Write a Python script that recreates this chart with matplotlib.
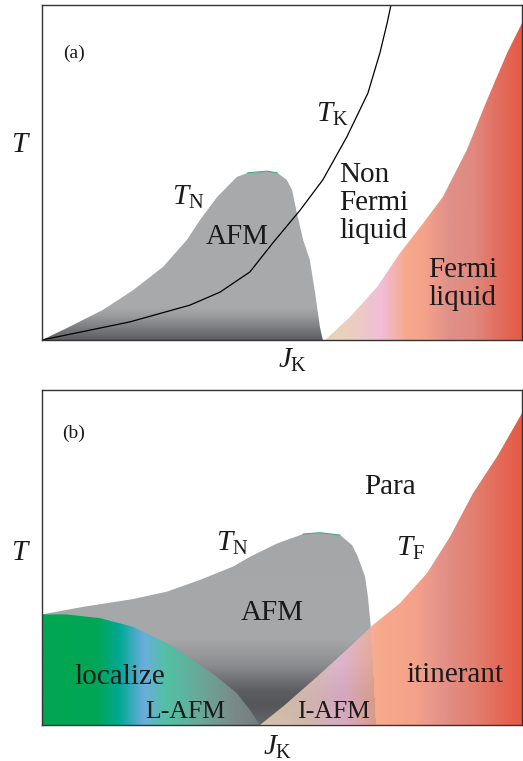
import numpy as np
import matplotlib
matplotlib.use('Agg')
import matplotlib.pyplot as plt
from matplotlib.patches import Polygon
from matplotlib.path import Path
from matplotlib.colors import LinearSegmentedColormap

plt.rcParams['font.family'] = ['Liberation Serif', 'DejaVu Serif']
plt.rcParams['mathtext.fontset'] = 'custom'
plt.rcParams['mathtext.rm'] = 'Liberation Serif'
plt.rcParams['mathtext.it'] = 'Liberation Serif:italic'

# ---------------- data (normalised J_K, T) ----------------
# panel (a)
afm_a_x = [0.0, 0.051, 0.127, 0.190, 0.252, 0.302, 0.329, 0.365, 0.406, 0.429, 0.469, 0.490,
           0.510, 0.521, 0.531, 0.544, 0.558, 0.569, 0.579, 0.585]
afm_a_y = [0.0, 0.035, 0.090, 0.149, 0.218, 0.299, 0.358, 0.427, 0.487, 0.499, 0.504, 0.499,
           0.478, 0.448, 0.379, 0.299, 0.239, 0.140, 0.039, 0.0]
tk_x = [0.0, 0.183, 0.308, 0.371, 0.433, 0.481, 0.538, 0.585, 0.635, 0.679, 0.704, 0.719, 0.727]
tk_y = [0.0, 0.054, 0.104, 0.143, 0.203, 0.290, 0.388, 0.478, 0.606, 0.737, 0.857, 0.946, 1.0]
fl_a_x = [0.590, 0.642, 0.698, 0.746, 0.788, 0.835, 0.885, 0.927, 0.969, 1.0]
fl_a_y = [0.0, 0.069, 0.158, 0.260, 0.337, 0.427, 0.567, 0.716, 0.857, 0.946]

# panel (b)
afm_b_x = [0.0, 0.087, 0.190, 0.260, 0.329, 0.398, 0.433, 0.490, 0.544, 0.579, 0.621, 0.646,
           0.658, 0.673, 0.679, 0.685, 0.690, 0.696]
afm_b_y = [0.330, 0.353, 0.376, 0.398, 0.433, 0.473, 0.502, 0.542, 0.570, 0.574, 0.567, 0.537,
           0.502, 0.443, 0.383, 0.293, 0.185, 0.0]
loc_x = [0.0, 0.051, 0.121, 0.190, 0.260, 0.315, 0.364, 0.406, 0.433, 0.454]
loc_y = [0.330, 0.330, 0.319, 0.293, 0.244, 0.194, 0.144, 0.095, 0.045, 0.0]
itin_x = [0.454, 0.502, 0.573, 0.642, 0.690, 0.746, 0.802, 0.850, 0.898, 0.948, 1.0]
itin_y = [0.0, 0.055, 0.144, 0.234, 0.299, 0.364, 0.453, 0.562, 0.692, 0.801, 0.931]

# colour stops
gray_a_stops = [(0.0, '#5e5f63'), (0.03, '#77797c'), (0.07, '#9a9c9e'), (0.10, '#a8aaac'),
                (1.0, '#a6a8aa')]
gray_b_stops = [(0.0, '#646569'), (0.06, '#55565a'), (0.10, '#5d5e62'), (0.18, '#8c8e90'),
                (0.26, '#a6a8aa'), (1.0, '#a2a4a6')]
fermi_a_stops = [(0.0, '#e8d5b6'), (0.59, '#e8d5b6'), (0.66, '#eccbc4'), (0.71, '#f2bdd8'),
                 (0.76, '#f6a98c'), (0.80, '#f4a28a'), (0.85, '#e09088'), (0.90, '#e08a80'),
                 (0.95, '#e27060'), (1.0, '#e55a46')]
itin_stops = [(0.0, '#ecd9b8'), (0.454, '#ecd9b8'), (0.55, '#eecdc0'), (0.63, '#f2bcd8'),
              (0.70, '#f8aa8c'), (0.78, '#f4a28a'), (0.84, '#e29088'), (0.90, '#e28070'),
              (1.0, '#e55a46')]
loc_stops = [(0.0, '#00a651'), (0.11, '#00a655'), (0.16, '#00a894'), (0.21, '#6aaedc'),
             (0.26, '#52c0a4'), (0.33, '#6aa898'), (0.40, '#7a8a88'), (0.46, '#76797c'),
             (1.0, '#76797c')]

N = 500
g = np.linspace(0, 1, N)
GX, GY = np.meshgrid(g, g)


def cmap(stops):
    return LinearSegmentedColormap.from_list('c', stops)


def hgrad(stops):
    return cmap(stops)(GX)[..., :3]


def vgrad(stops):
    return cmap(stops)(GY)[..., :3]


def grad_fill(ax, xs, ys, img, z):
    poly = Polygon(np.column_stack([xs, ys]), closed=True, facecolor='none',
                   edgecolor='none', transform=ax.transData)
    ax.add_patch(poly)
    im = ax.imshow(img, extent=(0, 1, 0, 1), origin='lower', aspect='auto',
                   zorder=z, interpolation='bilinear')
    im.set_clip_path(poly)
    return im


fig = plt.figure(figsize=(5.23, 7.61), dpi=100)
axa = fig.add_axes([42 / 523, 1 - 340 / 761, 480 / 523, 335 / 761])
axb = fig.add_axes([42 / 523, 1 - 725 / 761, 480 / 523, 335 / 761])

for ax in (axa, axb):
    ax.set_xticks([])
    ax.set_yticks([])
    for s in ax.spines.values():
        s.set_color('#333333')
        s.set_linewidth(1.0)
        s.set_zorder(10)

fs = 21
tc = '#1a1a1a'

# ---- panel (a) ----
grad_fill(axa, list(afm_a_x), list(afm_a_y), vgrad(gray_a_stops), 1)
grad_fill(axa, list(fl_a_x) + [1.0], list(fl_a_y) + [0.0], hgrad(fermi_a_stops), 1)
axa.plot(afm_a_x[9:12], afm_a_y[9:12], color='#45a98e', lw=0.8, zorder=2)
axa.plot(tk_x, tk_y, color='black', lw=0.9, zorder=3)
axa.set_xlim(0, 1)
axa.set_ylim(0, 1)

axa.text(0.067, 0.857, '(a)', fontsize=14, ha='center', va='center', color=tc)
axa.text(0.604, 0.672, r'$T_{\rm K}$', fontsize=fs, ha='center', va='center', color=tc)
axa.text(0.304, 0.427, r'$T_{\rm N}$', fontsize=fs, ha='center', va='center', color=tc)
axa.text(0.406, 0.308, 'AFM', fontsize=fs, ha='center', va='center', color=tc, zorder=5)
axa.text(0.619, 0.409, 'Non\nFermi\nliquid', fontsize=fs, ha='left', va='center',
         linespacing=1.1, color=tc)
axa.text(0.804, 0.167, 'Fermi\nliquid', fontsize=fs, ha='left', va='center',
         linespacing=1.1, color=tc, zorder=5)

# ---- panel (b) ----
afm_bx = list(afm_b_x) + [0.0]
afm_by = list(afm_b_y) + [0.0]
grad_fill(axb, afm_bx, afm_by, vgrad(gray_b_stops), 1)

itin_img = hgrad(itin_stops)
gray_b_img = vgrad(gray_b_stops)
inside = Path(np.column_stack([afm_bx, afm_by])).contains_points(
    np.column_stack([GX.ravel(), GY.ravel()])).reshape(GX.shape)
itin_img[inside] = 0.8 * itin_img[inside] + 0.2 * gray_b_img[inside]
grad_fill(axb, list(itin_x) + [1.0], list(itin_y) + [0.0], itin_img, 2)
grad_fill(axb, [0.0] + list(loc_x), [0.0] + list(loc_y), hgrad(loc_stops), 2)
axb.plot(afm_b_x[8:11], afm_b_y[8:11], color='#45a98e', lw=0.8, zorder=3)
axb.set_xlim(0, 1)
axb.set_ylim(0, 1)

axb.text(0.065, 0.872, '(b)', fontsize=14, ha='center', va='center', color=tc)
axb.text(0.725, 0.711, 'Para', fontsize=fs, ha='center', va='center', color=tc)
axb.text(0.396, 0.543, r'$T_{\rm N}$', fontsize=fs, ha='center', va='center', color=tc)
axb.text(0.767, 0.528, r'$T_{\rm F}$', fontsize=fs, ha='center', va='center', color=tc)
axb.text(0.479, 0.334, 'AFM', fontsize=fs, ha='center', va='center', color=tc, zorder=5)
axb.text(0.163, 0.144, 'localize', fontsize=fs, ha='center', va='center', color=tc, zorder=5)
axb.text(0.298, 0.040, 'L-AFM', fontsize=18.5, ha='center', va='center', color=tc, zorder=5)
axb.text(0.607, 0.040, 'I-AFM', fontsize=18.5, ha='center', va='center', color=tc, zorder=5)
axb.text(0.860, 0.149, 'itinerant', fontsize=fs, ha='center', va='center', color=tc, zorder=5)

# axis labels
fig.text(21 / 523, 1 - 145 / 761, r'$T$', fontsize=fs, ha='center', va='center', color=tc)
fig.text(293 / 523, 1 - 360 / 761, r'$J_{\rm K}$', fontsize=fs, ha='center', va='center', color=tc)
fig.text(21 / 523, 1 - 553 / 761, r'$T$', fontsize=fs, ha='center', va='center', color=tc)
fig.text(278 / 523, 1 - 747 / 761, r'$J_{\rm K}$', fontsize=fs, ha='center', va='center', color=tc)

fig.savefig('out.png', dpi=100)
